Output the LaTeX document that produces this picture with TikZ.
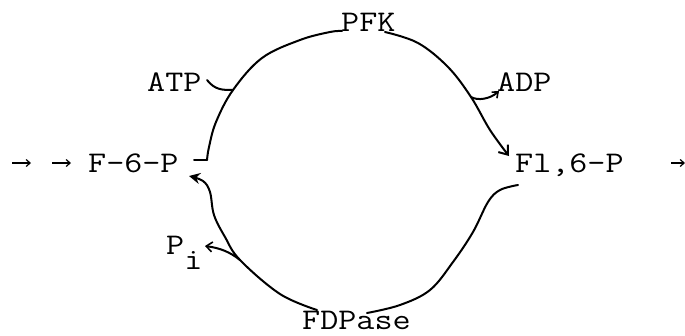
\documentclass[tikz,border=0pt]{standalone}
\usetikzlibrary{arrows.meta}
\newcommand{\tw}[1]{\scalebox{1.17}[1]{#1}}
\begin{document}
\begin{tikzpicture}[x=1pt,y=-1pt,
  lbl/.style={anchor=base west,inner sep=0pt,font=\fontsize{30}{30}\selectfont\ttfamily},
  cyc/.style={line width=2pt,line cap=round,line join=round},
  barb/.style={-{Straight Barb[length=8pt,width=12pt,line width=2pt]}},
  fill tip/.style={-{Stealth[length=11pt,width=11pt]}},
  small arr/.style={line width=1.2pt,-{Straight Barb[length=4pt,width=7pt,line width=1.2pt]}}]
\useasboundingbox (0,0) rectangle (685,335);
% labels
\node[lbl] (f6p) at (88,172) {\tw{F-6-P}};
\node[lbl] (f16p) at (515,172) {\tw{Fl,6-P}};
\node[lbl] (pfk) at (341,31) {\tw{PFK}};
\node[lbl] (atp) at (147,91) {\tw{ATP}};
\node[lbl] (adp) at (497,91) {\tw{ADP}};
\node[lbl] (fdp) at (302,329) {\tw{FDPase}};
\node[lbl] (pi) at (166,254) {\tw{P\raisebox{-15pt}{i}}};
% free-end coordinates
\coordinate (a1s) at (12,163); \coordinate (a1e) at (31,163);
\coordinate (a2s) at (52,163); \coordinate (a2e) at (71,163);
\coordinate (a3s) at (671,163); \coordinate (a3e) at (685,163);
\coordinate (atpj) at (233,90);
\coordinate (adpj) at (471,97);
\coordinate (pij) at (240,260);
% feed arrows
\draw[small arr] (a1s) -- (a1e);
\draw[small arr] (a2s) -- (a2e);
\draw[small arr] (a3s) -- (a3e);
% upper left arc (F-6-P to PFK)
\draw[cyc] plot[smooth,tension=0.6] coordinates {(194,160) (207,160)};
\draw[cyc] plot[smooth,tension=0.6] coordinates {(207,160) (209,147) (216,122) (atpj) (262,58) (300,40) (330,32) (342,31)};
% ATP branch
\draw[cyc] (207,80) .. controls (215,90) and (222,90) .. (atpj);
% upper right arc (PFK to Fl,6-P)
\draw[cyc,barb] plot[smooth,tension=0.6] coordinates {(385,32) (418,43) (448,67) (adpj) (490,130) (509,156)};
% ADP branch
\draw[cyc,-{Straight Barb[length=5pt,width=8pt,line width=1.6pt]}] (adpj) .. controls (478,101) and (490,99) .. (499,91);
% lower right arc (Fl,6-P to FDPase)
\draw[cyc] plot[smooth,tension=0.6] coordinates {(518,185) (500,190) (488,202) (473,232) (453,262) (430,290) (400,305) (367,313)};
% lower left arc (FDPase to F-6-P)
\draw[cyc,fill tip] plot[smooth,tension=0.6] coordinates {(317,310) (280,294) (pij) (225,237) (214,215) (210,192) (203,181) (189,176)};
% Pi branch
\draw[cyc,-{Straight Barb[length=6pt,width=10pt,line width=1.6pt]}] (pij) .. controls (230,252) and (220,248) .. (205,246);
\end{tikzpicture}
\end{document}
